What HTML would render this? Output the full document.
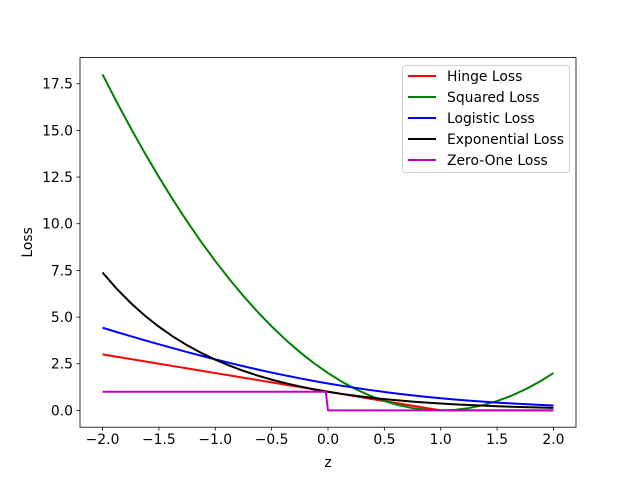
<!DOCTYPE html>
<html><head><meta charset="utf-8"><style>
html,body{margin:0;padding:0;background:#fff;}
svg text{font-family:"DejaVu Sans","Liberation Sans",sans-serif;font-size:13.9px;fill:#000;}
</style></head><body>
<svg id="chart" width="640" height="480" xmlns="http://www.w3.org/2000/svg"></svg>
<script>
const zVals=[-2,-1.875,-1.75,-1.625,-1.5,-1.375,-1.25,-1.125,-1,-0.875,-0.75,-0.625,-0.5,-0.375,-0.25,-0.125,0,0.125,0.25,0.375,0.5,0.625,0.75,0.875,1,1.125,1.25,1.375,1.5,1.625,1.75,1.875,2];
const hingeVals=[3,2.875,2.75,2.625,2.5,2.375,2.25,2.125,2,1.875,1.75,1.625,1.5,1.375,1.25,1.125,1,0.875,0.75,0.625,0.5,0.375,0.25,0.125,0,0,0,0,0,0,0,0,0];
const squaredVals=[18,16.531,15.125,13.781,12.5,11.281,10.125,9.031,8,7.031,6.125,5.281,4.5,3.781,3.125,2.531,2,1.531,1.125,0.781,0.5,0.281,0.125,0.031,0,0.031,0.125,0.281,0.5,0.781,1.125,1.531,2];
const logisticVals=[4.427,4.200,3.976,3.756,3.541,3.331,3.126,2.927,2.734,2.547,2.366,2.193,2.027,1.870,1.719,1.577,1.443,1.317,1.199,1.089,0.987,0.892,0.805,0.725,0.652,0.585,0.524,0.469,0.419,0.374,0.333,0.297,0.264];
const expVals=[7.389,6.521,5.755,5.078,4.482,3.955,3.490,3.080,2.718,2.399,2.117,1.868,1.649,1.455,1.284,1.133,1,0.8825,0.7788,0.6873,0.6065,0.5353,0.4724,0.4169,0.3679,0.3247,0.2865,0.2528,0.2231,0.1969,0.1738,0.1534,0.1353];
const zeroZ=[-2,-0.02,0,2];
const zeroVals=[1,1,0,0];
const xTicks=[-2,-1.5,-1,-0.5,0,0.5,1,1.5,2];
const xTickLabels=["\u22122.0","\u22121.5","\u22121.0","\u22120.5","0.0","0.5","1.0","1.5","2.0"];
const yTicks=[0,2.5,5,7.5,10,12.5,15,17.5];
const yTickLabels=["0.0","2.5","5.0","7.5","10.0","12.5","15.0","17.5"];
const seriesNames=["Hinge Loss","Squared Loss","Logistic Loss","Exponential Loss","Zero-One Loss"];

const L=80,R=576,T=57.6,B=427.2;
const xMin=-2.2,xMax=2.2,yMin=-0.9,yMax=18.9;
const sx=v=>L+(v-xMin)/(xMax-xMin)*(R-L);
const sy=v=>B-(v-yMin)/(yMax-yMin)*(B-T);
const svg=document.getElementById('chart');
const NS="http://www.w3.org/2000/svg";
function mk(tag,attrs){const e=document.createElementNS(NS,tag);for(const k in attrs)e.setAttribute(k,attrs[k]);svg.appendChild(e);return e;}

const series=[
 {name:"hinge-loss-line",xs:zVals,ys:hingeVals,c:"#ff0000"},
 {name:"squared-loss-line",xs:zVals,ys:squaredVals,c:"#008000"},
 {name:"logistic-loss-line",xs:zVals,ys:logisticVals,c:"#0000ff"},
 {name:"exponential-loss-line",xs:zVals,ys:expVals,c:"#000000"},
 {name:"zero-one-loss-line",xs:zeroZ,ys:zeroVals,c:"#bf00bf"}
];
series.forEach(s=>{
 const p=mk('polyline',{points:s.xs.map((x,i)=>sx(x)+','+sy(s.ys[i])).join(' '),fill:'none',stroke:s.c,'stroke-width':2,'stroke-linejoin':'round'});
 
 
});

const frame=mk('rect',{x:L,y:T,width:R-L,height:B-T,fill:'none',stroke:'#000','stroke-width':0.8});



xTicks.forEach((v,i)=>{
 const t=mk('line',{x1:sx(v),x2:sx(v),y1:B,y2:B+3.5,stroke:'#000','stroke-width':0.8});
 
 
 const tx=mk('text',{x:sx(v),y:B+17,'text-anchor':'middle'});
 tx.textContent=xTickLabels[i];
 
 
});
yTicks.forEach((v,i)=>{
 const t=mk('line',{x1:L-3.5,x2:L,y1:sy(v),y2:sy(v),stroke:'#000','stroke-width':0.8});
 
 
 const tx=mk('text',{x:L-7,y:sy(v)+5,'text-anchor':'end'});
 tx.textContent=yTickLabels[i];
 
 
});
const xl=mk('text',{x:(L+R)/2,y:467,'text-anchor':'middle'});
xl.textContent='z';


const yl=mk('text',{x:32,y:(T+B)/2,'text-anchor':'middle',transform:'rotate(-90 32 '+((T+B)/2)+')'});
yl.textContent='Loss';



const lg=mk('rect',{x:402.5,y:65.5,width:167,height:107,rx:3,fill:'#fff','fill-opacity':0.8,stroke:'#ccc','stroke-width':1});


series.forEach((s,i)=>{
 const y=76+i*21;
 const ln=mk('line',{x1:408,x2:436,y1:y,y2:y,stroke:s.c,'stroke-width':2});
 
 
 const tx=mk('text',{x:447,y:y+5});
 tx.textContent=seriesNames[i];
 
 
});
</script>
</body></html>
